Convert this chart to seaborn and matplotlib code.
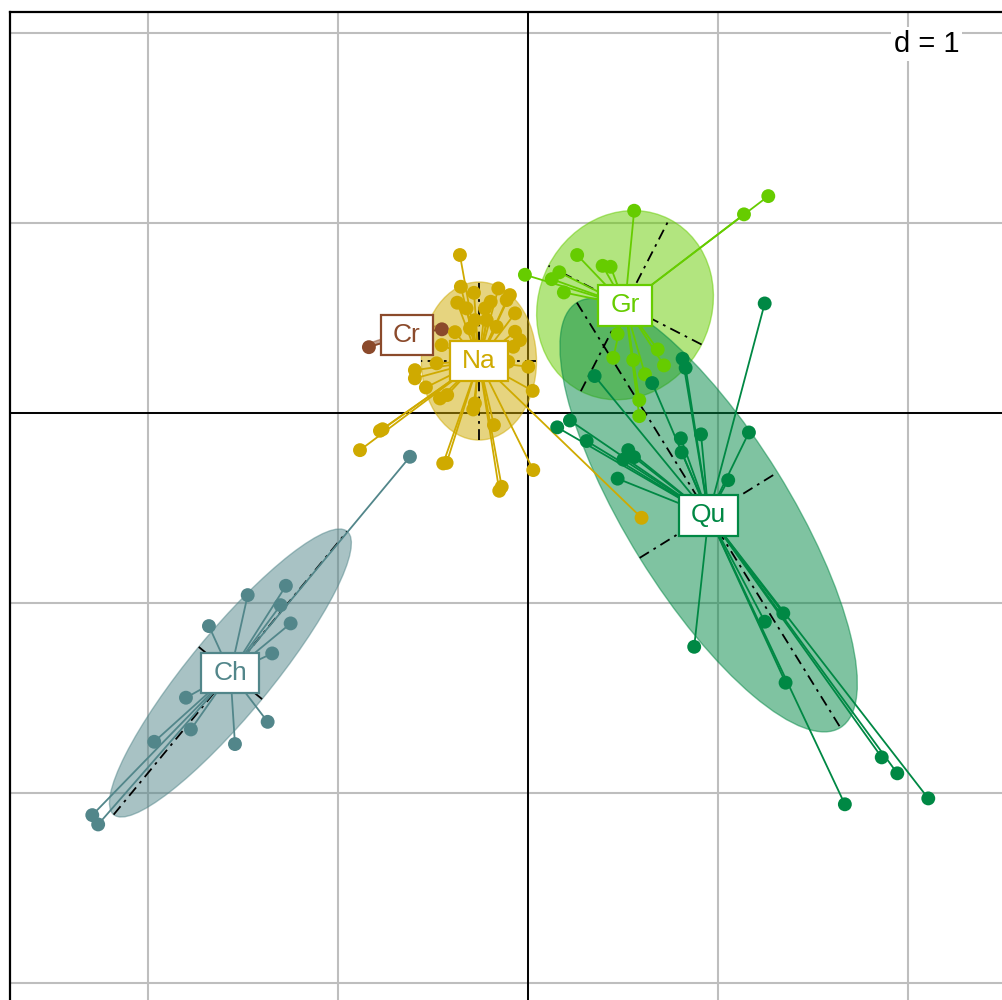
import numpy as np
import pandas as pd
import matplotlib
matplotlib.use("Agg")
import matplotlib.pyplot as plt
from matplotlib.patches import Ellipse
from matplotlib.collections import LineCollection
from matplotlib.path import Path
import seaborn as sns

# ---- data -------------------------------------------------------------
classes = ["Ch", "Cr", "Gr", "Na", "Qu"]
palette = {"Ch": "#52868A", "Cr": "#8B4A2B", "Gr": "#66CC00",
           "Na": "#CFAA00", "Qu": "#008844"}

ch_x = [-0.621, -1.475, -1.274, -1.302, -1.249, -1.679, -1.346, -1.800,
        -1.774, -1.967, -1.542, -1.370, -2.293, -2.262]
ch_y = [-0.230, -0.958, -0.909, -1.011, -1.107, -1.121, -1.265, -1.498,
        -1.665, -1.730, -1.742, -1.625, -2.116, -2.165]

cr_x = [-0.837, -0.453]
cr_y = [0.347, 0.441]

gr_x = [0.559, 1.265, 1.137, 0.259, 0.393, 0.435, -0.016, 0.165, 0.125,
        0.189, 0.472, 0.449, 0.554, 0.616, 0.683, 0.716, 0.586, 0.586]
gr_y = [1.065, 1.142, 1.046, 0.832, 0.775, 0.770, 0.728, 0.741, 0.705,
        0.635, 0.416, 0.291, 0.279, 0.204, 0.335, 0.251, 0.068, -0.016]

na_x = [-0.358, -0.353, -0.284, -0.372, -0.323, -0.156, -0.095, -0.112,
        -0.196, -0.226, -0.068, -0.279, -0.217, -0.305, -0.165, -0.068,
        -0.042, -0.454, -0.077, 0.002, -0.595, -0.595, -0.481, -0.537,
        -0.463, -0.425, -0.279, -0.288, 0.025, -0.179, -0.779, -0.884,
        -0.446, -0.428, -0.138, -0.151, 0.028, -0.104, 0.598, -0.384,
        -0.347, -0.765]
na_y = [0.832, 0.665, 0.633, 0.581, 0.551, 0.656, 0.621, 0.595, 0.586,
        0.551, 0.525, 0.489, 0.489, 0.446, 0.454, 0.428, 0.384, 0.358,
        0.349, 0.244, 0.226, 0.183, 0.262, 0.135, 0.077, 0.095, 0.051,
        0.019, 0.117, -0.063, -0.093, -0.195, -0.265, -0.262, -0.388,
        -0.409, -0.300, 0.270, -0.551, 0.426, 0.332, -0.085]

qu_x = [1.246, 0.814, 0.830, 0.351, 0.654, 0.805, 0.911, 1.163, 0.809,
        0.221, 0.154, 0.309, 0.528, 0.558, 0.502, 0.472, 1.054, 0.875,
        1.247, 1.344, 1.356, 1.862, 1.944, 1.668, 2.107]
qu_y = [0.577, 0.286, 0.238, 0.195, 0.158, -0.133, -0.112, -0.102, -0.207,
        -0.039, -0.075, -0.147, -0.195, -0.232, -0.245, -0.345, -0.353,
        -1.230, -1.098, -1.054, -1.419, -1.812, -1.896, -2.059, -2.028]

# class centres and inertia ellipses (semi-axes, orientation in degrees)
center_x = [-1.566, -0.637, 0.511, -0.258, 0.951]
center_y = [-1.368, 0.411, 0.568, 0.274, -0.537]
ell_major = [0.966, 0.210, 0.509, 0.416, 1.316]
ell_minor = [0.216, 0.015, 0.453, 0.303, 0.427]
ell_angle = [50.5, 14.0, 62.8, 90.0, -58.2]

grid_step = 1

# ---- assemble ---------------------------------------------------------
pts = pd.concat([
    pd.DataFrame({"x": ch_x, "y": ch_y, "cls": "Ch"}),
    pd.DataFrame({"x": cr_x, "y": cr_y, "cls": "Cr"}),
    pd.DataFrame({"x": gr_x, "y": gr_y, "cls": "Gr"}),
    pd.DataFrame({"x": na_x, "y": na_y, "cls": "Na"}),
    pd.DataFrame({"x": qu_x, "y": qu_y, "cls": "Qu"}),
], ignore_index=True)
centers = pd.DataFrame({"cls": classes, "cx": center_x, "cy": center_y,
                        "a": ell_major, "b": ell_minor, "ang": ell_angle})
pts = pts.merge(centers[["cls", "cx", "cy"]], on="cls")

sns.set_theme(style="white")
plt.rcParams["font.family"] = ["Liberation Sans", "DejaVu Sans"]

fig = plt.figure(figsize=(10.02, 10.0), dpi=100)
ax = fig.add_axes([10 / 1002, 0.0, 992 / 1002, 988 / 1000])
ax.set_xlim(-2.726, 2.495)
ax.set_ylim(-3.089, 2.111)
ax.set_aspect("equal", adjustable="box")

# grid and origin axes
for v in np.arange(-2, 3, grid_step):
    ax.axvline(v, color="#BEBEBE", lw=1.5, zorder=0)
for v in np.arange(-3, 3, grid_step):
    ax.axhline(v, color="#BEBEBE", lw=1.5, zorder=0)
ax.axvline(0, color="black", lw=1.4, zorder=0.5)
ax.axhline(0, color="black", lw=1.4, zorder=0.5)

# ellipses
for _, r in centers.iterrows():
    col = palette[r.cls]
    e = Ellipse((r.cx, r.cy), 2 * r.a, 2 * r.b, angle=r.ang,
                facecolor=col, alpha=0.5, edgecolor=col, lw=1.0, zorder=1)
    ax.add_patch(e)

# ellipse axes (dot-dash)
for _, r in centers.iterrows():
    if r.cls == "Cr":
        continue
    t = np.deg2rad(r.ang)
    u = np.array([np.cos(t), np.sin(t)])
    v = np.array([-np.sin(t), np.cos(t)])
    c = np.array([r.cx, r.cy])
    for vec, ln in ((u, r.a), (v, r.b)):
        p0, p1 = c - ln * vec, c + ln * vec
        ax.plot([p0[0], p1[0]], [p0[1], p1[1]], color="black", lw=1.3,
                ls=(0, (6, 3, 1.5, 3)), zorder=2)

# star segments from each point to its class centre
for cls in classes:
    sub = pts[pts.cls == cls]
    segs = [[(x, y), (cx, cy)] for x, y, cx, cy in
            zip(sub.x, sub.y, sub.cx, sub.cy)]
    ax.add_collection(LineCollection(segs, colors=palette[cls],
                                     linewidths=1.3, zorder=3))

sns.scatterplot(data=pts, x="x", y="y", hue="cls", palette=palette,
                s=100, edgecolor="none", linewidth=0, legend=False,
                ax=ax, zorder=4)


def label_box(x0, y0, width, height, mutation_size):
    px = 0.46 * mutation_size
    py = 0.32 * mutation_size
    xa, ya = x0 - px, y0 - py
    xb, yb = x0 + width + px, y0 + height + py
    return Path([(xa, ya), (xb, ya), (xb, yb), (xa, yb), (xa, ya)],
                closed=True)


for _, r in centers.iterrows():
    col = palette[r.cls]
    ax.text(r.cx, r.cy, r.cls, ha="center", va="center", fontsize=19,
            color=col, zorder=6,
            bbox=dict(boxstyle=label_box, facecolor="white",
                      edgecolor=col, linewidth=1.6))

ax.text(0.9567, 0.9676, "d = 1", transform=ax.transAxes, ha="right",
        va="center", fontsize=21, color="black", zorder=7,
        bbox=dict(boxstyle="square,pad=0.1", facecolor="white",
                  edgecolor="none"))

ax.set_xticks([])
ax.set_yticks([])
ax.set_xlabel("")
ax.set_ylabel("")
for side in ("right", "bottom"):
    ax.spines[side].set_visible(False)
for side in ("top", "left"):
    ax.spines[side].set_color("black")
    ax.spines[side].set_linewidth(1.6)

fig.savefig("out.png", dpi=100, facecolor="white")
